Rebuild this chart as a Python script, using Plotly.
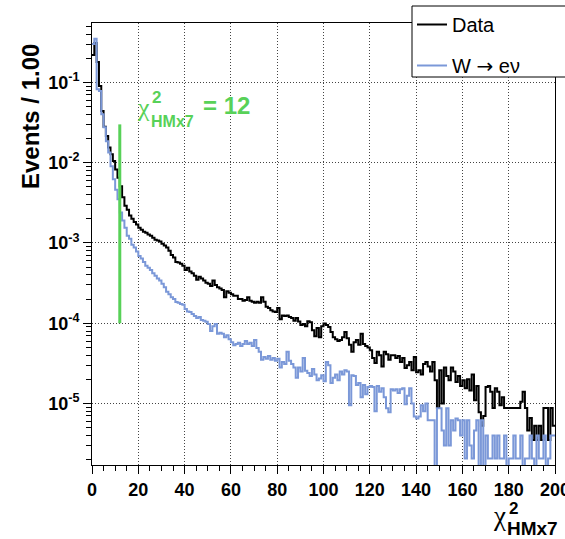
import plotly.graph_objects as go

# ---------------- data (bin width 1, 0..200) ----------------
bin_edges = list(range(0, 201))

data_vals = [
    0.22, 0.31, 0.18, 0.09, 0.044, 0.028, 0.0215, 0.0155, 0.0127, 0.0105,
    0.0082, 0.0065, 0.0051, 0.0037, 0.0029, 0.0026, 0.0022, 0.0020, 0.00183, 0.0017,
    0.00155, 0.00146, 0.00138, 0.00134, 0.00127, 0.00123, 0.00116, 0.0011, 0.00107, 0.00104,
    0.00098, 0.00093, 0.00088, 0.0008, 0.00071, 0.00066, 0.00058, 0.00057, 0.00055, 0.00052,
    0.00046, 0.00049, 0.00044, 0.00042, 0.00039, 0.000348, 0.00038, 0.00036, 0.00034, 0.00032,
    0.00031, 0.00029, 0.00034, 0.0003, 0.00028, 0.00027, 0.00026, 0.00021, 0.00025, 0.00024,
    0.00023, 0.00022, 0.00022, 0.0002, 0.0002, 0.00019, 0.000195, 0.00021, 0.00019, 0.000185,
    0.00018, 0.000185, 0.00018, 0.00021, 0.000185, 0.00016, 0.000155, 0.000145, 0.00014, 0.000138,
    0.000155, 0.000112, 0.000125, 0.000123, 0.000125, 0.00012, 0.000116, 0.000107, 0.000116, 0.000105,
    9.5e-5, 9.8e-5, 9.2e-5, 1.06e-4, 1.03e-4, 8.2e-5, 6.9e-5, 8.7e-5, 6.7e-5, 9.2e-5,
    9.9e-5, 9.5e-5, 9.0e-5, 7.8e-5, 6.7e-5, 6.3e-5, 6.0e-5, 6.2e-5, 6.7e-5, 7.8e-5,
    6.5e-5, 5.4e-5, 4.4e-5, 5.8e-5, 6.2e-5, 5.4e-5, 7.4e-5, 5.5e-5, 5.2e-5, 5.0e-5,
    4.6e-5, 3.7e-5, 3.2e-5, 4.4e-5, 4.0e-5, 2.9e-5, 4.4e-5, 4.1e-5, 3.5e-5, 4.0e-5,
    4.0e-5, 3.7e-5, 3.9e-5, 3.3e-5, 3.7e-5, 2.76e-5, 3.0e-5, 3.3e-5, 2.6e-5, 3.8e-5,
    2.46e-5, 2.6e-5, 2.3e-5, 3.1e-5, 3.3e-5, 2.9e-5, 2.5e-5, 3.3e-5, 1.95e-5, 8.8e-6,
    2.6e-5, 1.0e-5, 2.8e-5, 2.2e-5, 1.95e-5, 2.8e-5, 2.5e-5, 1.85e-5, 2.2e-5, 1.65e-5,
    1.95e-5, 1.55e-5, 2.0e-5, 1.45e-5, 2.3e-5, 1.1e-5, 1.65e-5, 7.8e-6, 5.3e-6, 7.0e-6,
    1.6e-5, 1.65e-5, 1.4e-5, 8.8e-6, 1.55e-5, 1.4e-5, 9.5e-6, 1.2e-5, 8.8e-6, 8.8e-6,
    8.8e-6, 8.8e-6, 8.8e-6, 8.8e-6, 8.8e-6, 1.05e-5, 1.4e-5, 8.8e-6, 4.6e-6, 6.6e-6,
    3.5e-6, 5.3e-6, 3.5e-6, 5.3e-6, 3.5e-6, 8.8e-6, 8.8e-6, 3.5e-6, 8.8e-6, 5.3e-6,
]

mc_vals = [
    0.30, 0.35, 0.082, 0.078, 0.040, 0.0276, 0.0185, 0.0134, 0.009, 0.0062,
    0.0046, 0.0035, 0.0024, 0.0019, 0.00155, 0.00123, 0.00113, 0.00095, 0.00088, 0.00078,
    0.00069, 0.00064, 0.00058, 0.00052, 0.00049, 0.00046, 0.00042, 0.00039, 0.00036, 0.00034,
    0.00031, 0.00028, 0.000246, 0.00023, 0.00021, 0.0002, 0.000184, 0.00018, 0.000174, 0.00017,
    0.00015, 0.00014, 0.000138, 0.00013, 0.000123, 0.000116, 0.00012, 0.00011, 0.000107, 0.000104,
    9.8e-5, 8.0e-5, 9.2e-5, 9.8e-5, 7.4e-5, 7.6e-5, 7.4e-5, 6.7e-5, 7.1e-5, 6.3e-5,
    5.8e-5, 5.3e-5, 5.5e-5, 5.7e-5, 5.2e-5, 5.5e-5, 6.0e-5, 5.5e-5, 5.7e-5, 5.2e-5,
    6.2e-5, 4.9e-5, 4.4e-5, 3.5e-5, 3.8e-5, 3.6e-5, 3.9e-5, 3.5e-5, 3.7e-5, 3.4e-5,
    3.6e-5, 2.8e-5, 3.3e-5, 3.1e-5, 4.4e-5, 3.4e-5, 3.1e-5, 2.8e-5, 2.1e-5, 2.8e-5,
    2.5e-5, 3.7e-5, 2.55e-5, 2.4e-5, 2.2e-5, 2.7e-5, 2.3e-5, 1.95e-5, 2.05e-5, 2.25e-5,
    1.9e-5, 3.3e-5, 3.0e-5, 1.8e-5, 2.1e-5, 2.3e-5, 1.95e-5, 2.5e-5, 2.3e-5, 2.6e-5,
    2.5e-5, 9.5e-6, 2.25e-5, 2.2e-5, 1.7e-5, 1.8e-5, 1.2e-5, 1.7e-5, 1.3e-5, 1.6e-5,
    1.65e-5, 1.6e-5, 8.0e-6, 1.65e-5, 1.4e-5, 1.55e-5, 1.2e-5, 8.7e-6, 7.8e-6, 1.5e-5,
    1.45e-5, 1.5e-5, 1.35e-5, 1.5e-5, 1.55e-5, 9.8e-6, 1.25e-5, 1.55e-5, 1.0e-5, 6.9e-6,
    6.5e-6, 6.9e-6, 9.5e-6, 8.0e-6, 1.0e-5, 6.2e-6, 6.2e-6, 6.2e-6, 0, 8.7e-6,
    8.7e-6, 4.6e-6, 3.0e-6, 8.7e-6, 3.0e-6, 6.2e-6, 4.6e-6, 6.5e-6, 6.2e-6, 4.0e-6,
    6.2e-6, 2.07e-6, 6.2e-6, 3.0e-6, 2.07e-6, 4.6e-6, 6.2e-6, 0, 6.2e-6, 0,
    4.0e-6, 2.07e-6, 2.07e-6, 4.0e-6, 2.07e-6, 4.0e-6, 2.07e-6, 2.07e-6, 4.0e-6, 0,
    2.07e-6, 2.07e-6, 4.0e-6, 2.07e-6, 2.07e-6, 4.0e-6, 0, 2.07e-6, 2.07e-6, 4.0e-6,
    2.07e-6, 0, 4.0e-6, 2.07e-6, 2.07e-6, 4.0e-6, 0, 2.07e-6, 4.0e-6, 4.0e-6,
]

cut_value = 12
cut_line_range = [1e-4, 0.03]

x_tick_vals = [0, 20, 40, 60, 80, 100, 120, 140, 160, 180, 200]
y_tick_vals = [1e-5, 1e-4, 1e-3, 1e-2, 1e-1]
y_tick_text = ["10<sup>-5</sup>", "10<sup>-4</sup>", "10<sup>-3</sup>", "10<sup>-2</sup>", "10<sup>-1</sup>"]
series_names = ["Data", "W <span style='font-family:DejaVu Sans'>\u2192</span> e\u03bd"]

# ---------------- geometry helpers (pixels -> paper) ----------------
W, H = 565, 539
L, R, T, B = 92, 555, 23, 465
PW, PH = R - L, B - T


def px(x):
    return (x - L) / PW


def py(y):
    return (B - y) / PH


def step(vals):
    # empty bins go below the visible range (clipped at the frame)
    v = [val if val > 0 else 1e-9 for val in vals]
    return v + [v[-1]]


BLACK = "#000000"
BLUE = "#7b98d8"
GREEN = "#58d158"
FONT = "Liberation Sans"
GRID_DASH = "1px,2px"

fig = go.Figure()
fig.add_trace(go.Scatter(
    x=bin_edges, y=step(data_vals), mode="lines", line_shape="hv",
    line=dict(color=BLACK, width=2), name=series_names[0],
    legendgroup="a", showlegend=True,
))
fig.add_trace(go.Scatter(
    x=bin_edges, y=step(mc_vals), mode="lines", line_shape="hv",
    line=dict(color=BLUE, width=2), name=series_names[1],
    legendgroup="b", showlegend=True,
))
fig.add_trace(go.Scatter(
    x=[cut_value, cut_value], y=cut_line_range, mode="lines",
    line=dict(color=GREEN, width=3), showlegend=False, hoverinfo="skip",
))

fig.update_layout(
    width=W, height=H,
    margin=dict(l=L, r=W - R, t=T, b=H - B, autoexpand=False),
    paper_bgcolor="white", plot_bgcolor="white",
    font=dict(family=FONT, color="black"),
    showlegend=True,
    legend=dict(
        x=px(412), y=py(5), xanchor="left", yanchor="top",
        bgcolor="rgba(0,0,0,0)", borderwidth=0,
        font=dict(family=FONT, size=20, color="black"),
        traceorder="grouped", tracegroupgap=12,
    ),
)

fig.update_xaxes(
    range=[0, 200], tickvals=x_tick_vals,
    ticks="outside", ticklen=8, tickwidth=1, tickcolor="black",
    minor=dict(ticks="outside", ticklen=5, tickwidth=1, tickcolor="black", dtick=5, showgrid=False),
    showgrid=True, gridcolor="#444444", griddash=GRID_DASH, gridwidth=1,
    showline=True, linecolor="black", linewidth=1, mirror=True,
    zeroline=False, ticklabeloverflow="allow",
    tickfont=dict(family=FONT, size=18, color="black", weight="bold"),
)
fig.update_yaxes(
    type="log", range=[-5.766, -0.26], tickvals=y_tick_vals, ticktext=y_tick_text,
    ticks="outside", ticklen=8, tickwidth=1, tickcolor="black",
    minor=dict(ticks="outside", ticklen=5, tickwidth=1, tickcolor="black", dtick="D1", showgrid=False),
    showgrid=True, gridcolor="#444444", griddash=GRID_DASH, gridwidth=1,
    showline=True, linecolor="black", linewidth=1, mirror=True,
    zeroline=False,
    tickfont=dict(family=FONT, size=18, color="black", weight="bold"),
)

# legend box (extends past the right edge of the page, as in the reference)
fig.add_shape(type="rect", xref="paper", yref="paper",
              x0=px(412), x1=px(640), y0=py(77), y1=py(6),
              line=dict(color="black", width=1), fillcolor="white", layer="above")

# y title
fig.add_annotation(xref="paper", yref="paper", x=px(30), y=py(116),
                   text="<b>Events / 1.00</b>", textangle=-90, showarrow=False,
                   xanchor="center", yanchor="middle",
                   font=dict(family=FONT, size=24, color="black"))

# x title: chi^2_HMx7
fig.add_annotation(xref="paper", yref="paper", x=px(491), y=py(516),
                   text="\u03c7", showarrow=False, xanchor="left", yanchor="middle",
                   font=dict(family="Liberation Serif", size=27, color="black"))
fig.add_annotation(xref="paper", yref="paper", x=px(507), y=py(508),
                   text="<b>2</b>", showarrow=False, xanchor="left", yanchor="middle",
                   font=dict(family=FONT, size=17, color="black"))
fig.add_annotation(xref="paper", yref="paper", x=px(505), y=py(528),
                   text="<b>HMx7</b>", showarrow=False, xanchor="left", yanchor="middle",
                   font=dict(family=FONT, size=19, color="black"))

# green cut label
fig.add_annotation(xref="paper", yref="paper", x=px(135), y=py(108),
                   text="\u03c7", showarrow=False, xanchor="left", yanchor="middle",
                   font=dict(family="Liberation Serif", size=26, color=GREEN))
fig.add_annotation(xref="paper", yref="paper", x=px(150), y=py(98),
                   text="<b>2</b>", showarrow=False, xanchor="left", yanchor="middle",
                   font=dict(family=FONT, size=17, color=GREEN))
fig.add_annotation(xref="paper", yref="paper", x=px(149), y=py(121),
                   text="<b>HMx7</b>", showarrow=False, xanchor="left", yanchor="middle",
                   font=dict(family=FONT, size=16, color=GREEN))
fig.add_annotation(xref="paper", yref="paper", x=px(201), y=py(105),
                   text="<b>= %d</b>" % cut_value, showarrow=False, xanchor="left", yanchor="middle",
                   font=dict(family=FONT, size=24, color=GREEN))

fig.write_html("out.html")
